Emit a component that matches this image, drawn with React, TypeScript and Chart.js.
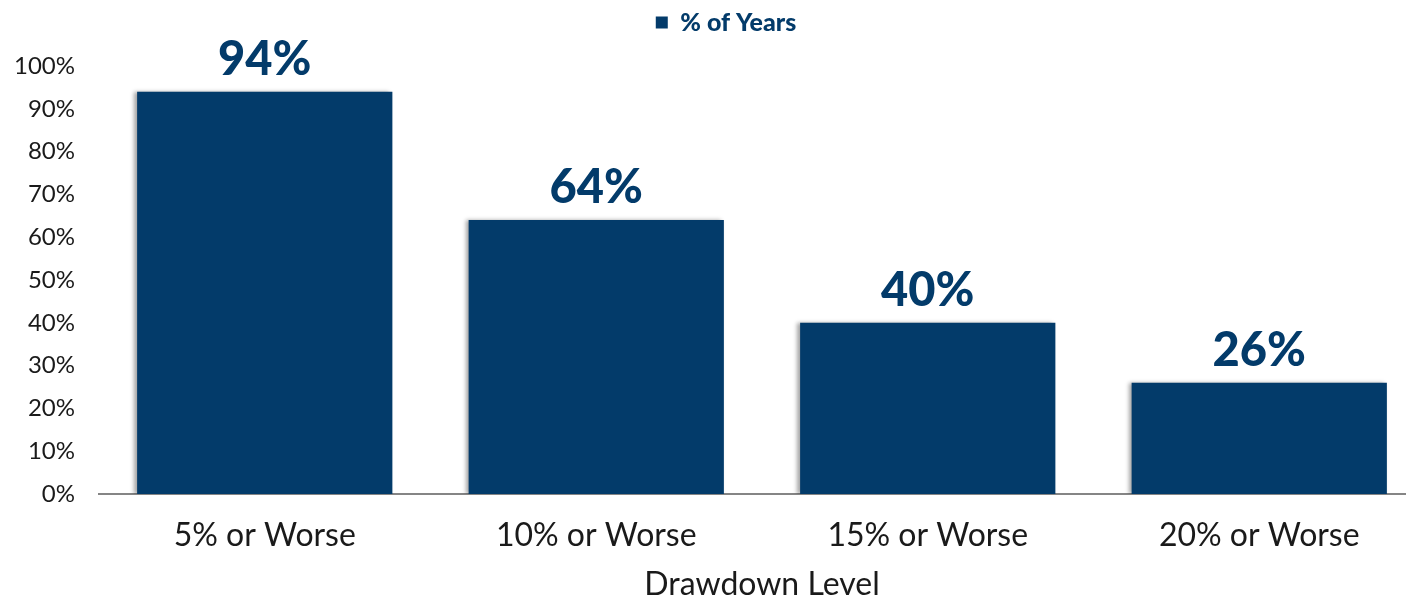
import React, { useEffect, useRef } from "react";
import { Chart, registerables } from "chart.js";

Chart.register(...registerables);

const categories: string[] = ["5% or Worse", "10% or Worse", "15% or Worse", "20% or Worse"];
const percentOfYears: number[] = [94, 64, 40, 26];
const seriesName = "% of Years";
const xAxisTitle = "Drawdown Level";
const yTickValues: number[] = [0, 10, 20, 30, 40, 50, 60, 70, 80, 90, 100];

const NAVY = "#033b6a";
const FONT = "Lato, 'Open Sans', sans-serif";

const valueLabels = {
  id: "valueLabels",
  afterDatasetsDraw(chart: any) {
    const ctx = chart.ctx;
    const meta = chart.getDatasetMeta(0);
    ctx.save();
    ctx.fillStyle = NAVY;
    ctx.font = `900 47px ${FONT}`;
    ctx.textAlign = "center";
    ctx.textBaseline = "alphabetic";
    meta.data.forEach((bar: any, i: number) => {
      const v = chart.data.datasets[0].data[i];
      ctx.fillText(`${v}%`, bar.x, bar.y - 17);
    });
    ctx.restore();
  },
};

const barShadow = {
  id: "barShadow",
  beforeDatasetsDraw(chart: any) {
    const ctx = chart.ctx;
    ctx.save();
    ctx.shadowColor = "rgba(0,0,0,0.35)";
    ctx.shadowBlur = 4;
    ctx.shadowOffsetX = -3;
    ctx.shadowOffsetY = 0;
  },
  afterDatasetsDraw(chart: any) {
    chart.ctx.restore();
  },
};

const legendSpace = {
  id: "legendSpace",
  beforeInit(chart: any) {
    const legend = chart.legend;
    if (!legend) return;
    const origFit = legend.fit;
    legend.fit = function () {
      origFit.call(this);
      this.height = 66;
    };
  },
  afterLayout(chart: any) {
    const legend = chart.legend;
    if (!legend) return;
    legend.left = 27;
    legend.right = chart.chartArea.right;
    legend.width = legend.right - legend.left;
  },
};

export default function App() {
  const ref = useRef<HTMLCanvasElement | null>(null);

  useEffect(() => {
    if (!ref.current) return;
    const chart = new Chart(ref.current, {
      type: "bar",
      data: {
        labels: categories,
        datasets: [
          {
            label: seriesName,
            data: percentOfYears,
            backgroundColor: NAVY,
            borderWidth: 0,
            barPercentage: 0.77,
            categoryPercentage: 1,
          },
        ],
      },
      options: {
        animation: false,
        responsive: true,
        maintainAspectRatio: false,
        layout: { padding: { left: 0, right: 25, top: 0, bottom: 0 } },
        plugins: {
          legend: {
            display: true,
            position: "top",
            align: "center",
            labels: {
              boxWidth: 12,
              boxHeight: 12,
              padding: 10,
              color: NAVY,
              font: { family: FONT, size: 25, weight: "900" },
            },
          },
          tooltip: { enabled: false },
        },
        scales: {
          x: {
            grid: { display: false, drawTicks: false },
            border: { display: true, color: "#858585", width: 2 },
            ticks: {
              color: "#1a1a1a",
              padding: 22,
              font: { family: FONT, size: 32 },
            },
            title: {
              display: true,
              text: xAxisTitle,
              color: "#1a1a1a",
              font: { family: FONT, size: 32 },
              padding: { top: 0, bottom: -7 },
            },
            afterFit: (scale: any) => {
              scale.height = 103;
            },
          },
          y: {
            min: 0,
            max: 100,
            grid: { display: false, drawTicks: false },
            border: { display: false },
            afterBuildTicks: (scale: any) => {
              scale.ticks = yTickValues.map((v) => ({ value: v }));
            },
            ticks: {
              color: "#1a1a1a",
              padding: 24,
              font: { family: FONT, size: 24 },
              callback: (v: any) => `${v}%`,
            },
            afterFit: (scale: any) => {
              scale.width = 99;
            },
          },
        },
      },
      plugins: [legendSpace, barShadow, valueLabels],
    });
    return () => chart.destroy();
  }, []);

  return (
    <div
      style={{
        position: "fixed",
        left: 0,
        top: 0,
        width: 1406,
        height: 597,
        overflow: "hidden",
        background: "#ffffff",
      }}
    >
      <div style={{ position: "absolute", left: 0, top: 0, width: 1450, height: 597 }}>
        <canvas ref={ref} />
      </div>
    </div>
  );
}
